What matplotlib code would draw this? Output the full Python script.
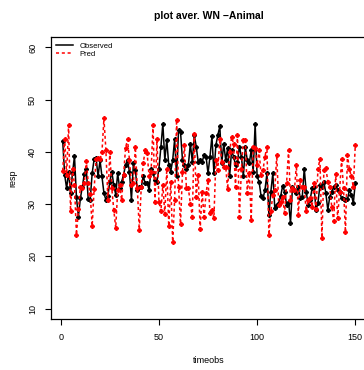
import matplotlib
matplotlib.use('Agg')
import matplotlib.pyplot as plt
import numpy as np

plt.rcParams['font.family'] = ['Liberation Sans', 'DejaVu Sans']

# values, time 1..150
observed = [42.1, 35.6, 33.0, 36.2, 32.1, 36.0, 39.2, 31.3, 27.6, 31.1,
            33.3, 35.8, 36.8, 30.9, 30.8, 35.9, 38.6, 38.9, 35.3, 38.4,
            35.3, 32.1,
            30.8, 31.5, 34.3, 36.2, 33.7, 31.8, 35.9, 33.0, 34.3, 35.6,
            37.5, 38.4, 36.2, 30.8, 37.8, 36.5, 32.7, 33.2, 33.2, 35.3,
            34.0, 34.1, 32.7, 36.8, 35.9, 34.6,
            34.3, 36.8, 40.9, 45.4, 38.4, 42.3, 37.5, 36.2, 38.4, 42.4,
            35.3, 44.2, 43.8, 38.4, 37.5, 36.8, 37.5, 41.6, 38.1, 43.2,
            41.0, 38.1, 38.4, 38.1, 39.4,
            39.1, 35.9, 39.1, 43.0, 35.9, 41.3, 43.2, 44.9, 37.8, 41.6,
            38.4, 40.7, 35.3, 40.3, 39.1, 37.5, 38.1, 41.0, 39.1, 35.3,
            40.9, 38.4, 37.8, 40.3, 36.2, 45.4,
            35.3, 34.3, 31.6, 31.1, 32.7, 35.9, 28.0, 32.4, 35.9, 29.2,
            29.9, 30.2, 31.5, 33.5, 32.4, 29.9, 30.5, 26.4, 33.2, 32.7,
            32.2, 33.3, 31.1, 31.4, 36.8, 32.4,
            29.9, 30.8, 33.0, 33.3, 28.9, 30.2, 33.7, 33.3, 34.3, 32.1,
            28.9, 31.4, 32.4, 33.3, 33.7, 32.7, 32.4, 31.1, 30.9, 30.8,
            30.9, 32.7, 31.8, 30.2, 34.1]

pred = [36.4, 42.4, 35.6, 45.1, 28.6, 36.8, 33.7, 24.1, 29.0, 33.3,
        33.0, 34.0, 38.3, 34.1, 32.0, 25.8, 32.9, 38.6, 38.8, 38.6,
        40.0, 46.4,
        40.3, 30.8, 40.0, 33.0, 28.9, 25.4, 32.7, 33.7, 30.8, 35.6,
        40.7, 42.4, 38.4, 33.7, 34.0, 40.9, 33.0, 25.1, 33.3, 37.8,
        40.3, 39.7, 35.3, 36.2, 45.1, 30.5,
        42.4, 30.5, 28.6, 33.7, 28.1, 36.8, 25.8, 34.3, 22.8, 30.8,
        46.2, 33.3, 26.2, 36.2, 41.3, 33.0, 33.0, 30.1, 27.6, 43.4,
        31.4, 35.6, 25.2, 32.4, 27.5,
        32.1, 34.6, 28.3, 28.9, 27.3, 38.4, 36.5, 42.4, 38.1, 37.2,
        37.2, 32.8, 40.0, 42.8, 41.6, 33.3, 43.2, 27.5, 36.7, 42.3,
        42.3, 32.1, 36.0, 27.0, 41.0, 40.7,
        37.5, 40.3, 35.6, 36.5, 39.1, 41.0, 24.1, 28.6, 31.8, 32.7,
        39.4, 29.9, 30.5, 31.4, 28.3, 34.0, 40.3, 30.8, 33.0, 32.7,
        37.5, 28.0, 34.6, 33.3, 33.3, 28.6,
        30.8, 31.1, 29.5, 34.0, 29.0, 36.8, 38.6, 23.5, 36.5, 37.0,
        34.3, 33.2, 29.5, 26.7, 35.8, 27.3, 32.4, 38.6, 33.0, 24.6,
        39.4, 36.7, 35.3, 33.3, 41.3]

timeobs = np.arange(1, len(observed) + 1)

fig = plt.figure(figsize=(3.64, 3.70), dpi=100)
# R-style plot region; the right edge runs past the picture
ax = fig.add_axes([51 / 364, 51 / 370, 316 / 364, 282 / 370])

ax.plot(timeobs, observed, color='black', linewidth=1.1, marker='P',
        markersize=2.6, label='Observed')
ax.plot(timeobs, pred, color='red', linewidth=1.1, linestyle=(0, (2, 1.8)),
        marker='P', markersize=2.6, label='Pred')

ax.set_xlim(-4.96, 155.96)
ax.set_ylim(8, 62)
ax.set_xticks([0, 50, 100, 150])
ax.set_yticks([10, 20, 30, 40, 50, 60])
ax.tick_params(labelsize=6.5, length=4, width=0.8, pad=6)
for lab in ax.get_yticklabels():
    lab.set_rotation(90)
    lab.set_va('center')

for s in ax.spines.values():
    s.set_linewidth(0.9)

ax.set_xlabel('timeobs', fontsize=6.5, labelpad=10)
ax.set_ylabel('resp', fontsize=6.5, labelpad=8)
ax.set_title('plot aver. WN \u2212Animal', fontsize=7.5, fontweight='bold', pad=13)

ax.legend(loc='upper left', frameon=False, fontsize=5.5, handlelength=2.2,
          handletextpad=0.8, labelspacing=0.1, borderaxespad=0.3,
          markerscale=0)

fig.savefig('out.png', dpi=100)
